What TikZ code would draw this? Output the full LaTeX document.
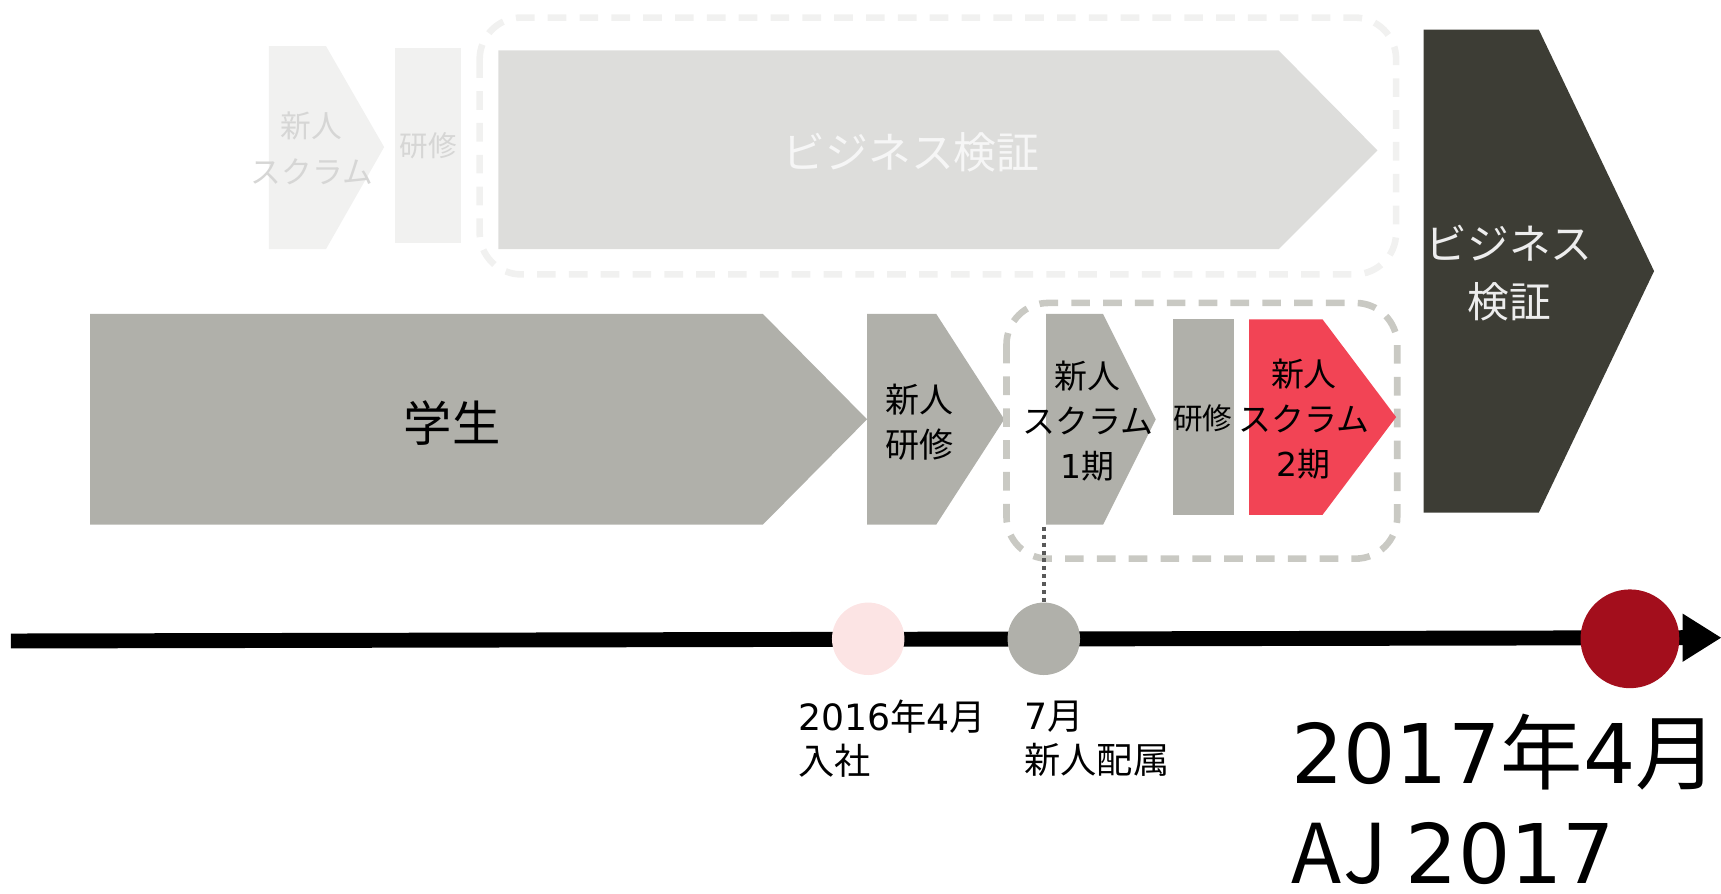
\documentclass[tikz,border=0pt]{standalone}
\usepackage{fontspec}
\setmainfont{Noto Sans CJK JP}
\newfontfamily\latf{DejaVu Sans}
\newcommand\ld[1]{{\latf #1}}
\definecolor{faintfill}{HTML}{F1F1F0}
\definecolor{fainttext}{HTML}{D6D6D5}
\definecolor{lightfill}{HTML}{DDDDDB}
\definecolor{lighttext}{HTML}{F6F6F6}
\definecolor{darkfill}{HTML}{3D3D35}
\definecolor{midgray}{HTML}{B0B0AA}
\definecolor{dashgray}{HTML}{C9C9C3}
\definecolor{dashfaint}{HTML}{F1F1F0}
\definecolor{scrumred}{HTML}{F24455}
\definecolor{pinkdot}{HTML}{FCE4E4}
\definecolor{reddot}{HTML}{A30E1C}
\definecolor{dotline}{HTML}{595959}
\tikzset{
  lbl/.style={inner sep=0pt, align=center},
  boxdash/.style={line width=3pt, dash pattern=on 8.5pt off 6pt, rounded corners=19pt},
  evt/.style={circle, inner sep=0pt, draw=none},
  datelbl/.style={inner sep=0pt, align=left, anchor=west, font=\fontsize{16.5}{20}\selectfont},
  biglbl/.style={inner sep=0pt, anchor=base west, text depth=0pt, font=\fontsize{37.5}{46.5}\selectfont}
}
\begin{document}
\begin{tikzpicture}[x=0.5pt,y=-0.5pt]
\useasboundingbox (0,0) rectangle (1568,814);
% ---- top (faded) row
\fill[faintfill] (245,42) -- (297,42) -- (350,134) -- (297,227) -- (245,227) -- cycle;
\node[lbl, text=fainttext, font=\fontsize{14}{21}\selectfont] (fscrum) at (284,135) {新人\\スクラム};
\fill[faintfill] (360,44) rectangle (420,221);
\node[lbl, text=fainttext, font=\fontsize{13}{16}\selectfont] (ftrain) at (390,133) {研修};
\draw[boxdash, draw=dashfaint] (437,16) rectangle (1272,250);
\fill[lightfill] (454,46) -- (1165,46) -- (1255,137) -- (1165,227) -- (454,227) -- cycle;
\node[lbl, text=lighttext, font=\fontsize{19.5}{24}\selectfont] (fbiz) at (830,139) {ビジネス検証};
% ---- dark chevron
\fill[darkfill] (1297,27) -- (1402,27) -- (1507,247) -- (1402,467) -- (1297,467) -- cycle;
\node[lbl, text=white!93!black, font=\fontsize{19}{26.5}\selectfont] (biz) at (1375,249) {ビジネス\\検証};
% ---- middle row
\fill[midgray] (82,286) -- (695,286) -- (790,382) -- (695,478) -- (82,478) -- cycle;
\node[lbl, font=\fontsize{22}{26}\selectfont] (student) at (412,385) {学生};
\fill[midgray] (790,286) -- (853,286) -- (915,382) -- (853,478) -- (790,478) -- cycle;
\node[lbl, font=\fontsize{15.5}{20.5}\selectfont] (newtrain) at (838,385) {新人\\研修};
\draw[boxdash, draw=dashgray] (917,276) rectangle (1273,509);
\fill[midgray] (953,286) -- (1005,286) -- (1053,382) -- (1005,478) -- (953,478) -- cycle;
\coordinate (s1bottom) at (951,480);
\node[lbl, font=\fontsize{15}{20.5}\selectfont] (scrum1) at (991,384) {新人\\スクラム\\\ld{1}期};
\fill[midgray] (1069,291) rectangle (1124,469);
\node[lbl, font=\fontsize{13.5}{16}\selectfont] (train2) at (1096,381) {研修};
\fill[scrumred] (1138,291) -- (1205,291) -- (1272,380) -- (1205,469) -- (1138,469) -- cycle;
\node[lbl, font=\fontsize{15}{20.5}\selectfont] (scrum2) at (1188,382) {新人\\スクラム\\\ld{2}期};
% ---- timeline
\coordinate (tstart) at (10,584);
\coordinate (tend) at (1536,581);
\draw[line width=6.8pt] (tstart) -- (tend);
\fill (1533,559) -- (1568,581) -- (1533,603) -- cycle;
\node[evt, fill=pinkdot, minimum size=33pt] (join) at (791,582) {};
\node[evt, fill=midgray, minimum size=33pt] (assign) at (951,582) {};
\node[evt, fill=reddot, minimum size=45pt] (aj) at (1485,582) {};
\draw[dotline, line width=1.8pt, dash pattern=on 1.8pt off 1.8pt] (s1bottom) -- (assign.north);
% ---- labels
\node[datelbl] (joinlbl) at (727,673) {\ld{2016}年\ld{4}月\\入社};
\node[datelbl] (assignlbl) at (933,673) {\ld{7}月\\新人配属};
\node[biglbl] (ajdate) at (1176,714) {\ld{2017}年\ld{4}月};
\node[biglbl] (ajname) at (1176,805) {A\kern1pt J \ld{2017}};
\end{tikzpicture}
\end{document}
